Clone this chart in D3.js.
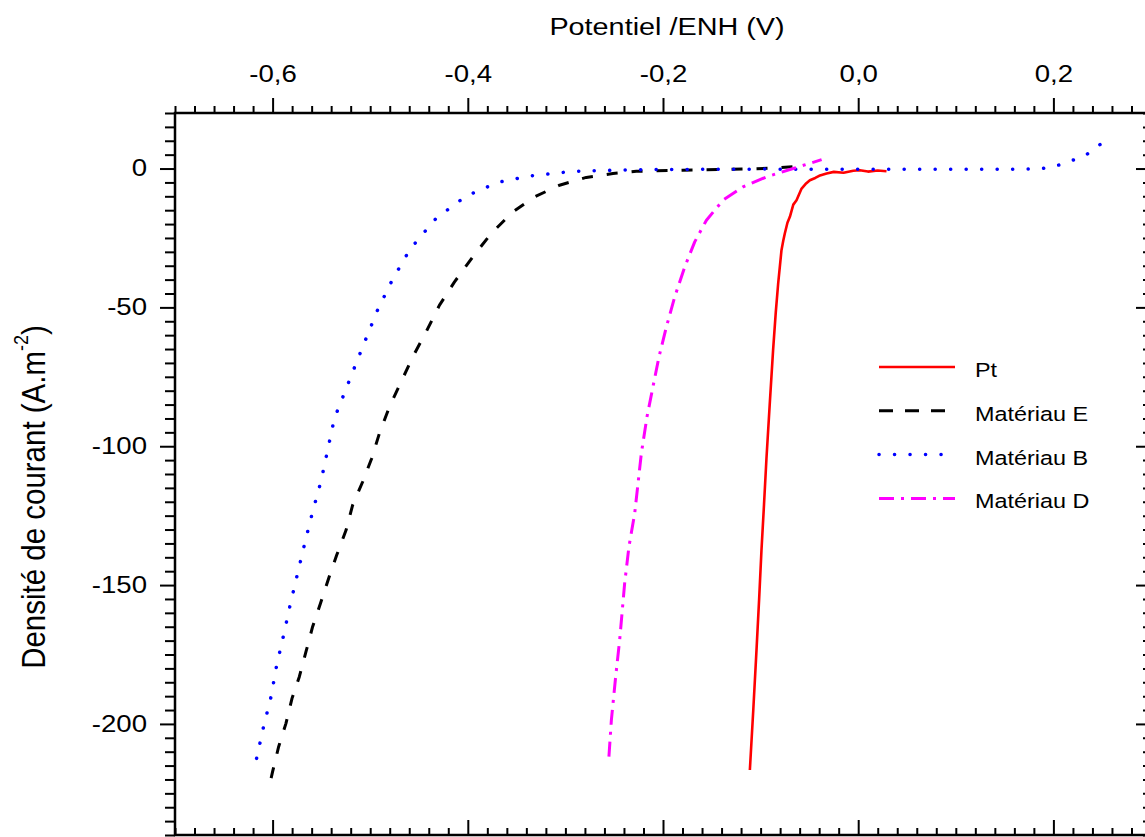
<!DOCTYPE html>
<html>
<head>
<meta charset="utf-8">
<script src="https://cdn.jsdelivr.net/npm/d3@7"></script>
<style>
	body { margin: 0; background: #fff; }
	svg { display: block; font-family: Arial, "Liberation Sans", sans-serif; }
</style>
</head>
<body>
<svg id="chart" width="1145" height="837"></svg>
<script>
// values: potential (V vs ENH) and current density (A.m-2)
const ptV = [-0.111, -0.1075, -0.1042, -0.1015, -0.0991, -0.0965, -0.094, -0.0905, -0.0872, -0.0845, -0.082, -0.0786, -0.0768, -0.0752, -0.0725, -0.07, -0.0665, -0.0632, -0.058, -0.054, -0.0495, -0.044, -0.04, -0.0324, -0.025, -0.015, -0.005, 0.0017, 0.01, 0.02, 0.029];
const ptJ = [-216.6, -195, -173.4, -155, -137.4, -121, -104.4, -84, -65.4, -52, -41.4, -29.4, -26, -23.4, -19.5, -17.4, -13, -11.4, -7.2, -5.6, -4.2, -3.4, -2.6, -1.8, -1.2, -1.5, -0.8, -0.6, -1.1, -0.7, -1.0];

const matEV = [-0.6015, -0.6, -0.5938, -0.5863, -0.5801, -0.5726, -0.5658, -0.559, -0.5504, -0.5426, -0.5343, -0.5247, -0.518, -0.5077, -0.4985, -0.4906, -0.4803, -0.4683, -0.4564, -0.4427, -0.429, -0.4136, -0.3949, -0.376, -0.3538, -0.3316, -0.306, -0.2786, -0.2513, -0.2273, -0.18, -0.13, -0.09, -0.0615];
const matEJ = [-219.5, -217.2, -208.2, -199.8, -190.8, -183, -174, -165, -156, -147.6, -139.2, -130.2, -121.2, -112.8, -104.4, -95.4, -85.8, -76.8, -67.8, -58.8, -49.2, -40.8, -31.8, -23.4, -15.6, -10.2, -6.0, -3.2, -1.8, -1.0, -0.6, -0.3, 0.1, 0.8];

const matBV = [-0.6164, -0.6095, -0.6016, -0.5959, -0.5887, -0.5818, -0.5744, -0.5668, -0.559, -0.5504, -0.5367, -0.5118, -0.4929, -0.4775, -0.4591, -0.4324, -0.4016, -0.3692, -0.3374, -0.292, -0.227, -0.1, 0.05, 0.15, 0.186, 0.2, 0.215, 0.232, 0.248];
const matBJ = [-212.4, -201.4, -190.2, -179, -168, -156.8, -145.8, -134.6, -123.6, -112.6, -90, -67.8, -51.3, -40.2, -29, -17.9, -9.9, -5, -2.7, -1.0, -0.4, -0.2, -0.3, -0.3, -0.1, 0.6, 2.4, 4.5, 8.7];

const matDV = [-0.2554, -0.2529, -0.2485, -0.2444, -0.2393, -0.2349, -0.229, -0.2222, -0.2164, -0.2103, -0.2041, -0.1965, -0.188, -0.1777, -0.1675, -0.1555, -0.1385, -0.118, -0.094, -0.0667, -0.0375];
const matDJ = [-211.8, -198.6, -183, -169.8, -149.4, -136.2, -124.2, -102.6, -89.4, -78.6, -67.8, -57, -46.2, -35.4, -26.4, -18.6, -11.4, -6.6, -3.0, 0, 3.2];

const seriesNames = ['Pt', 'Matériau E', 'Matériau B', 'Matériau D'];
const xMajorTicks = [-0.6, -0.4, -0.2, 0, 0.2];
const yMajorTicks = [-200, -150, -100, -50, 0];
const xTitle = 'Potentiel /ENH (V)';
const yTitle = 'Densité de courant (A.m';

const series = [
	{ name: seriesNames[0], v: ptV, j: ptJ, color: '#ff0000', width: 2.6, dash: null, cap: 'butt' },
	{ name: seriesNames[1], v: matEV, j: matEJ, color: '#000000', width: 3, dash: '11,14', cap: 'butt' },
	{ name: seriesNames[2], v: matBV, j: matBJ, color: '#0000ff', width: 3.5, dash: '0.1,15.4', cap: 'round' },
	{ name: seriesNames[3], v: matDV, j: matDJ, color: '#ff00ff', width: 3, dash: '15,7,3,7', cap: 'butt' }
];

const plotL = 175, plotR = 1151, plotT = 113, plotB = 835;
const SX = 1.2; // the original picture is stretched sideways

const x = d3.scaleLinear().domain([-0.7, 0.3]).range([plotL, plotR]);
const y = d3.scaleLinear().domain([-240, 20]).range([plotB, plotT]);

const svg = d3.select('#chart');

svg.append('defs').append('clipPath')
	.attr('id', 'plot-clip')
	.append('rect')
	.attr('x', plotL).attr('y', plotT)
	.attr('width', plotR - plotL).attr('height', plotB - plotT);

const xMinor = d3.range(-35, 16).filter((i) => i % 10 !== 0).map((i) => i * 0.02);
const yMinor = d3.range(-48, 5).filter((i) => i % 10 !== 0).map((i) => i * 5);

const fmtX = (d) => d.toFixed(1).replace('.', ',');
const fmtY = (d) => String(d);

function styleAxis (g) {
	g.select('.domain').remove();
	g.selectAll('line').attr('stroke', '#000').attr('stroke-width', 2);
	g.attr('font-family', null).attr('font-size', 23);
	g.selectAll('text').attr('fill', '#000');
}

// top axis (ticks out, labelled)
svg.append('g')
	.attr('transform', `translate(0,${plotT})`)
	.call(d3.axisTop(x).tickValues(xMinor).tickSize(7).tickFormat(''))
	.call(styleAxis);
svg.append('g')
	.attr('transform', `translate(0,${plotT})`)
	.call(d3.axisTop(x).tickValues(xMajorTicks).tickSize(15).tickPadding(16).tickFormat(fmtX))
	.call(styleAxis)
	.call((g) => g.selectAll('text').attr('transform', `scale(${SX},1)`));

// bottom axis (ticks in, no labels)
svg.append('g')
	.attr('transform', `translate(0,${plotB})`)
	.call(d3.axisBottom(x).tickValues(xMinor).tickSize(-7).tickFormat(''))
	.call(styleAxis);
svg.append('g')
	.attr('transform', `translate(0,${plotB})`)
	.call(d3.axisBottom(x).tickValues(xMajorTicks).tickSize(-15).tickFormat(''))
	.call(styleAxis);

// left axis (ticks out, labelled)
svg.append('g')
	.attr('transform', `translate(${plotL},0)`)
	.call(d3.axisLeft(y).tickValues(yMinor).tickSize(10).tickFormat(''))
	.call(styleAxis);
svg.append('g')
	.attr('transform', `translate(${plotL},0)`)
	.call(d3.axisLeft(y).tickValues(yMajorTicks).tickSize(15).tickPadding(13).tickFormat(fmtY))
	.call(styleAxis)
	.call((g) => g.selectAll('text')
		.attr('x', -28 / SX)
		.attr('transform', `scale(${SX},1)`));

// right axis (ticks in)
svg.append('g')
	.attr('transform', `translate(${plotR},0)`)
	.call(d3.axisRight(y).tickValues(yMinor).tickSize(-8).tickFormat(''))
	.call(styleAxis);
svg.append('g')
	.attr('transform', `translate(${plotR},0)`)
	.call(d3.axisRight(y).tickValues(yMajorTicks).tickSize(-15).tickFormat(''))
	.call(styleAxis);

// frame
svg.append('rect')
	.attr('x', plotL).attr('y', plotT)
	.attr('width', plotR - plotL).attr('height', plotB - plotT)
	.attr('fill', 'none')
	.attr('stroke', '#000')
	.attr('stroke-width', 2.5);

// curves
const line = d3.line()
	.x((d) => x(d[0]))
	.y((d) => y(d[1]));

svg.append('g')
	.attr('clip-path', 'url(#plot-clip)')
	.selectAll('path')
	.data(series)
	.enter()
	.append('path')
	.attr('d', (s) => line(s.v.map((v, i) => [v, s.j[i]])))
	.attr('fill', 'none')
	.attr('stroke', (s) => s.color)
	.attr('stroke-width', (s) => s.width)
	.attr('stroke-dasharray', (s) => s.dash)
	.attr('stroke-linecap', (s) => s.cap)
	.attr('stroke-linejoin', 'round');

// legend
const legend = svg.append('g')
	.selectAll('g')
	.data(series)
	.enter()
	.append('g')
	.attr('transform', (s, i) => `translate(879,${367 + i * 43.8})`);

legend.append('line')
	.attr('x1', 0).attr('x2', 76)
	.attr('stroke', (s) => s.color)
	.attr('stroke-width', (s) => s.width)
	.attr('stroke-dasharray', (s) => s.dash === '11,14' ? '14,12' : s.dash)
	.attr('stroke-linecap', (s) => s.cap);

legend.append('text')
	.attr('transform', `translate(96,10) scale(${SX},1)`)
	.attr('font-size', 19.5)
	.text((s) => s.name);

// axis titles
svg.append('text')
	.attr('transform', `translate(667,35) scale(${SX},1)`)
	.attr('text-anchor', 'middle')
	.attr('font-size', 24)
	.text(xTitle);

const yLabel = svg.append('text')
	.attr('transform', `translate(45,497) scale(1.15,1) rotate(-90)`)
	.attr('text-anchor', 'middle')
	.attr('font-size', 29.5);
yLabel.append('tspan').text(yTitle);
yLabel.append('tspan').attr('dy', -15).attr('font-size', 18).text('-2');
yLabel.append('tspan').attr('dy', 15).text(')');
</script>
</body>
</html>
